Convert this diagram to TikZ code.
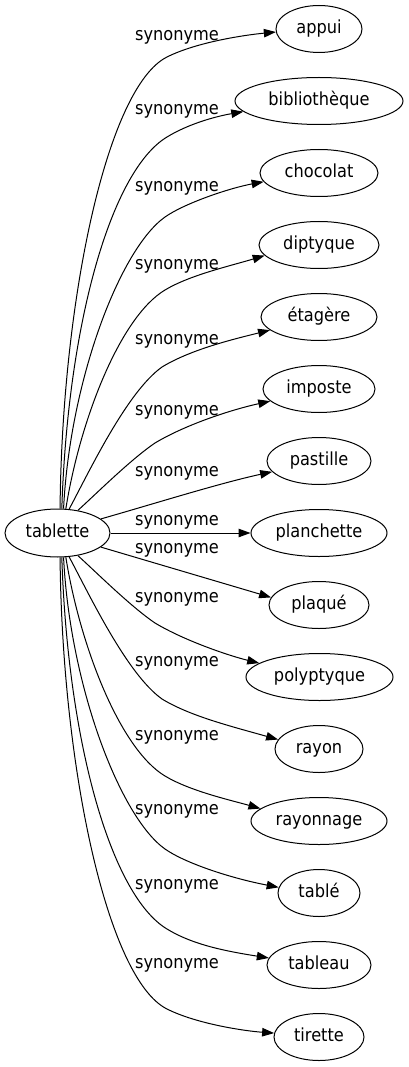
\documentclass[tikz,border=0pt]{standalone}
\usepackage{fontspec}
\setmainfont{DejaVu Sans}[FakeStretch=0.9]
\usetikzlibrary{arrows.meta,shapes.geometric}
\begin{document}
\begin{tikzpicture}[x=1pt,y=-1pt,
  every node/.style={font=\fontsize{18}{20}\selectfont, text height=13pt, text depth=4pt},
  word/.style={draw, ellipse, minimum height=47pt, inner sep=0pt, line width=1pt},
  lbl/.style={inner sep=0pt},
  edge/.style={line width=1pt, -{Triangle[length=12pt,width=8.5pt]}},
]
\useasboundingbox (0,0) rectangle (409,1067);
% nodes
\node[word, minimum width=105pt, minimum height=48pt] (tablette) at (57.5,533) {tablette};
\node[word, minimum width=86pt]  (appui)      at (319,29)   {appui};
\node[word, minimum width=168pt] (biblio)     at (319,101)  {bibliothèque};
\node[word, minimum width=118pt] (chocolat)   at (319,173)  {chocolat};
\node[word, minimum width=120pt] (diptyque)   at (319,245)  {diptyque};
\node[word, minimum width=116pt] (etagere)    at (319,317)  {étagère};
\node[word, minimum width=112pt] (imposte)    at (319,389)  {imposte};
\node[word, minimum width=104pt] (pastille)   at (319,461)  {pastille};
\node[word, minimum width=136pt] (planchette) at (319,533)  {planchette};
\node[word, minimum width=100pt] (plaque)     at (319,605)  {plaqué};
\node[word, minimum width=147pt] (polyptyque) at (319.5,677) {polyptyque};
\node[word, minimum width=88pt]  (rayon)      at (319,749)  {rayon};
\node[word, minimum width=136pt] (rayonnage)  at (319,821)  {rayonnage};
\node[word, minimum width=82pt]  (table)      at (319,893)  {tablé};
\node[word, minimum width=104pt] (tableau)    at (319,965)  {tableau};
\node[word, minimum width=90pt]  (tirette)    at (319,1037) {tirette};
% labels
\node[lbl] (l1)  at (177,36)  {synonyme};
\node[lbl] (l2)  at (177,110) {synonyme};
\node[lbl] (l3)  at (177,187) {synonyme};
\node[lbl] (l4)  at (177,265) {synonyme};
\node[lbl] (l5)  at (177,340) {synonyme};
\node[lbl] (l6)  at (177,411) {synonyme};
\node[lbl] (l7)  at (177,472) {synonyme};
\node[lbl] (l8)  at (177,521) {synonyme};
\node[lbl] (l9)  at (177,549) {synonyme};
\node[lbl] (l10) at (177,598) {synonyme};
\node[lbl] (l11) at (177,662) {synonyme};
\node[lbl] (l12) at (177,736) {synonyme};
\node[lbl] (l13) at (177,810) {synonyme};
\node[lbl] (l14) at (177,885) {synonyme};
\node[lbl] (l15) at (177,964) {synonyme};
% knee points of the curved connectors
\coordinate (k1) at (167,57);   \coordinate (k2) at (167,137);
\coordinate (k3) at (165,217);  \coordinate (k4) at (165,290);
\coordinate (k5) at (162,367);  \coordinate (k6) at (155,443);
\coordinate (k10) at (155,623); \coordinate (k11) at (162,699);
\coordinate (k12) at (165,776); \coordinate (k13) at (165,849);
\coordinate (k14) at (167,929); \coordinate (k15) at (167,1009);
% edges, upper half
\draw[edge] (tablette.84) .. controls (62,300) and (107,87) .. (k1) .. controls (197,42) and (245,35) .. (appui.184);
\draw[edge] (tablette.80) .. controls (68,320) and (112,170) .. (k2) .. controls (190,123) and (218,116) .. (biblio.188);
\draw[edge] (tablette.76) .. controls (70,380) and (120,249) .. (k3) .. controls (185,203) and (230,188) .. (chocolat.189);
\draw[edge] (tablette.71) .. controls (80,420) and (120,317) .. (k4) .. controls (190,275) and (230,266) .. (diptyque.191);
\draw[edge] (tablette.64) .. controls (90,470) and (127,392) .. (k5) .. controls (190,350) and (230,340) .. (etagere.195);
\draw[edge] (tablette.48) .. controls (95,495) and (130,460) .. (k6) .. controls (185,425) and (230,410) .. (imposte.194);
\draw[edge] (tablette.18) .. controls (150,505) and (220,483) .. (pastille.193);
% middle
\draw[edge] (tablette) -- (planchette);
\draw[edge] (tablette.342) -- (plaque.171);
% edges, lower half
\draw[edge] (tablette.312) .. controls (95,571) and (130,606) .. (k10) .. controls (185,641) and (230,656) .. (polyptyque.167);
\draw[edge] (tablette.296) .. controls (90,596) and (127,674) .. (k11) .. controls (190,716) and (230,726) .. (rayon.167);
\draw[edge] (tablette.289) .. controls (80,646) and (120,749) .. (k12) .. controls (190,791) and (230,800) .. (rayonnage.168);
\draw[edge] (tablette.284) .. controls (70,686) and (120,817) .. (k13) .. controls (185,863) and (230,878) .. (table.172);
\draw[edge] (tablette.280) .. controls (68,746) and (112,896) .. (k14) .. controls (190,943) and (218,950) .. (tableau.172);
\draw[edge] (tablette.276) .. controls (62,766) and (107,979) .. (k15) .. controls (197,1024) and (245,1031) .. (tirette.175);
\end{tikzpicture}
\end{document}
